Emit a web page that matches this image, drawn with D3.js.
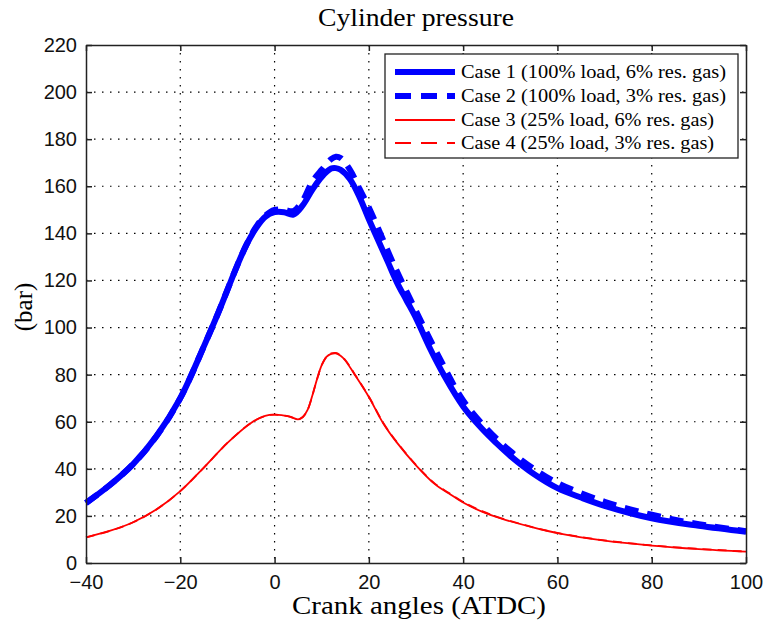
<!DOCTYPE html>
<html>
<head>
<meta charset="utf-8">
<script src="https://cdn.jsdelivr.net/npm/d3@7"></script>
<style>
  body { margin: 0; background: #fff; }
  svg { display: block; }
</style>
</head>
<body>
<svg id="chart" width="765" height="622"></svg>
<script>
// crank angle grids (deg ATDC) and pressures (bar)
var angles1 = [-40, -35, -30, -25, -20, -15, -12, -10, -8, -6, -4, -2, 0, 2, 4, 6, 8, 10, 12, 13, 14, 16, 18, 20, 22, 24, 26, 28, 30, 33, 36, 40, 44, 47, 50, 55, 60, 65, 70, 80, 90, 100];
var case1 = [25.5, 33, 42, 54, 70, 92, 106, 116, 126, 135, 142, 147, 149, 149, 148, 152, 158.5, 164, 167.5, 167.7, 167, 163, 155.5, 146, 137, 128, 119, 111.5, 104, 91, 79.5, 66.5, 57, 51, 45.5, 37.8, 31.8, 27.8, 24.3, 19, 15.8, 13.3];

var angles2 = [-40, -35, -30, -25, -20, -15, -12, -10, -8, -6, -4, -2, 0, 2, 4, 6, 8, 10, 12, 13, 14, 16, 18, 20, 22, 25, 30, 35, 40, 45, 50, 55, 60, 70, 80, 90, 100];
var case2 = [25.5, 33, 42, 54, 70, 92, 106, 116, 126, 135, 142.5, 147.5, 150, 150, 149.5, 154, 162, 167, 171.5, 172.5, 172, 167, 159, 151, 142, 128, 107, 87, 69, 57, 47.5, 40, 34, 26, 20.5, 16.5, 13.5];

var angles3 = [-40, -35, -30, -25, -20, -15, -10, -5, -2, 0, 3, 5, 6, 7, 8, 9, 10, 11, 12, 13, 14, 15, 17, 20, 23, 26, 30, 34, 37, 40, 44, 48, 55, 60, 70, 80, 90, 100];
var case3 = [10.9, 13.6, 17.3, 22.8, 30.5, 40.5, 51, 59.5, 62.5, 63, 62.3, 61, 62, 65, 71, 78, 84, 87.5, 88.8, 89, 88, 86, 80, 70.5, 59.5, 51, 41.5, 33.5, 29.5, 25.7, 21.8, 18.9, 15, 12.7, 9.5, 7.4, 5.9, 4.8];
var case4 = [10.9, 13.6, 17.3, 22.8, 30.5, 40.5, 51, 59.5, 62.5, 63, 62.3, 61, 62, 65, 71, 78, 84, 87.5, 89, 89.2, 88.2, 86.2, 80.2, 70.7, 59.7, 51.2, 41.7, 33.7, 29.7, 25.9, 22, 19.1, 15.1, 12.8, 9.6, 7.5, 6, 4.9];

var legendLabels = [
  "Case 1 (100% load, 6% res. gas)",
  "Case 2 (100% load, 3% res. gas)",
  "Case 3 (25% load, 6% res. gas)",
  "Case 4 (25% load, 3% res. gas)"
];
var xTicks = [-40, -20, 0, 20, 40, 60, 80, 100];
var yTicks = [0, 20, 40, 60, 80, 100, 120, 140, 160, 180, 200, 220];

var series = [
  {x: angles1, y: case1, color: "#0000ff", width: 6, dash: null},
  {x: angles2, y: case2, color: "#0000ff", width: 6, dash: "14,9"},
  {x: angles3, y: case3, color: "#ff0000", width: 1.8, dash: null},
  {x: angles3, y: case4, color: "#ff0000", width: 1.8, dash: "9,6"}
];

var svg = d3.select("#chart");
var box = {left: 86, right: 746, top: 45, bottom: 563};

var x = d3.scaleLinear().domain([-40, 100]).range([box.left, box.right]);
var y = d3.scaleLinear().domain([0, 220]).range([box.bottom, box.top]);

var sans = "'Liberation Sans', Arial, sans-serif";
var serif = "'Liberation Serif', 'Times New Roman', serif";

// dotted grid
var grid = svg.append("g");
grid.selectAll("line.gx")
  .data(xTicks.filter(function(d) { return d > -40 && d < 100; }))
  .enter().append("line")
    .attr("x1", function(d) { return x(d); })
    .attr("x2", function(d) { return x(d); })
    .attr("y1", box.top).attr("y2", box.bottom)
    .attr("stroke", "#000").attr("stroke-width", 1.2)
    .attr("stroke-dasharray", "1.5,6.5");
grid.selectAll("line.gy")
  .data(yTicks.filter(function(d) { return d > 0 && d < 220; }))
  .enter().append("line")
    .attr("y1", function(d) { return y(d); })
    .attr("y2", function(d) { return y(d); })
    .attr("x1", box.left).attr("x2", box.right)
    .attr("stroke", "#000").attr("stroke-width", 1.2)
    .attr("stroke-dasharray", "1.5,6.5");

// curves
var line = d3.line()
  .x(function(d) { return x(d[0]); })
  .y(function(d) { return y(d[1]); })
  .curve(d3.curveCatmullRom.alpha(0.5));

var plot = svg.append("g");
series.forEach(function(s) {
  plot.append("path")
    .datum(s.x.map(function(a, i) { return [a, s.y[i]]; }))
    .attr("d", line)
    .attr("fill", "none")
    .attr("stroke", s.color)
    .attr("stroke-width", s.width)
    .attr("stroke-dasharray", s.dash);
});

// axes, MATLAB box style with ticks inward on all sides
var axes = [
  {axis: d3.axisBottom(x).tickValues(xTicks).tickFormat(function(d) { return d < 0 ? "\u2212" + Math.abs(d) : d; }), at: "translate(0," + box.bottom + ")", pad: 12},
  {axis: d3.axisTop(x).tickValues(xTicks).tickFormat(""), at: "translate(0," + box.top + ")", pad: 9},
  {axis: d3.axisLeft(y).tickValues(yTicks), at: "translate(" + box.left + ",0)", pad: 9},
  {axis: d3.axisRight(y).tickValues(yTicks).tickFormat(""), at: "translate(" + box.right + ",0)", pad: 9}
];
axes.forEach(function(a) {
  var g = svg.append("g").attr("transform", a.at)
    .call(a.axis.tickSizeInner(-6).tickSizeOuter(0).tickPadding(a.pad));
  g.select(".domain").attr("stroke", "#222").attr("stroke-width", 1.5);
  g.selectAll(".tick line").attr("stroke", "#222").attr("stroke-width", 1.5);
  g.selectAll(".tick text").attr("font-family", sans).attr("font-size", 20).attr("fill", "#111");
});

// title and axis labels
svg.append("text")
  .attr("x", 416).attr("y", 26)
  .attr("text-anchor", "middle")
  .attr("font-family", serif).attr("font-size", 25)
  .attr("textLength", 196).attr("lengthAdjust", "spacingAndGlyphs")
  .text("Cylinder pressure");

svg.append("text")
  .attr("x", 419).attr("y", 614)
  .attr("text-anchor", "middle")
  .attr("font-family", serif).attr("font-size", 25)
  .attr("textLength", 254).attr("lengthAdjust", "spacingAndGlyphs")
  .text("Crank angles (ATDC)");

svg.append("text")
  .attr("transform", "translate(32,307) rotate(-90)")
  .attr("text-anchor", "middle")
  .attr("font-family", serif).attr("font-size", 25)
  .text("(bar)");

// legend
var legend = svg.append("g");
legend.append("rect")
  .attr("x", 385).attr("y", 54).attr("width", 353).attr("height", 104)
  .attr("fill", "#fff").attr("stroke", "#222").attr("stroke-width", 1.3);
var rows = [72, 96, 120, 143];
series.forEach(function(s, i) {
  legend.append("line")
    .attr("x1", 395).attr("x2", 455)
    .attr("y1", rows[i]).attr("y2", rows[i])
    .attr("stroke", s.color)
    .attr("stroke-width", s.width)
    .attr("stroke-dasharray", s.dash ? "16,10" : null);
  legend.append("text")
    .attr("x", 461).attr("y", rows[i]).attr("dy", "0.33em")
    .attr("font-family", serif).attr("font-size", 19)
    .attr("textLength", i < 2 ? 265 : 253).attr("lengthAdjust", "spacingAndGlyphs")
    .text(legendLabels[i]);
});
</script>
</body>
</html>
